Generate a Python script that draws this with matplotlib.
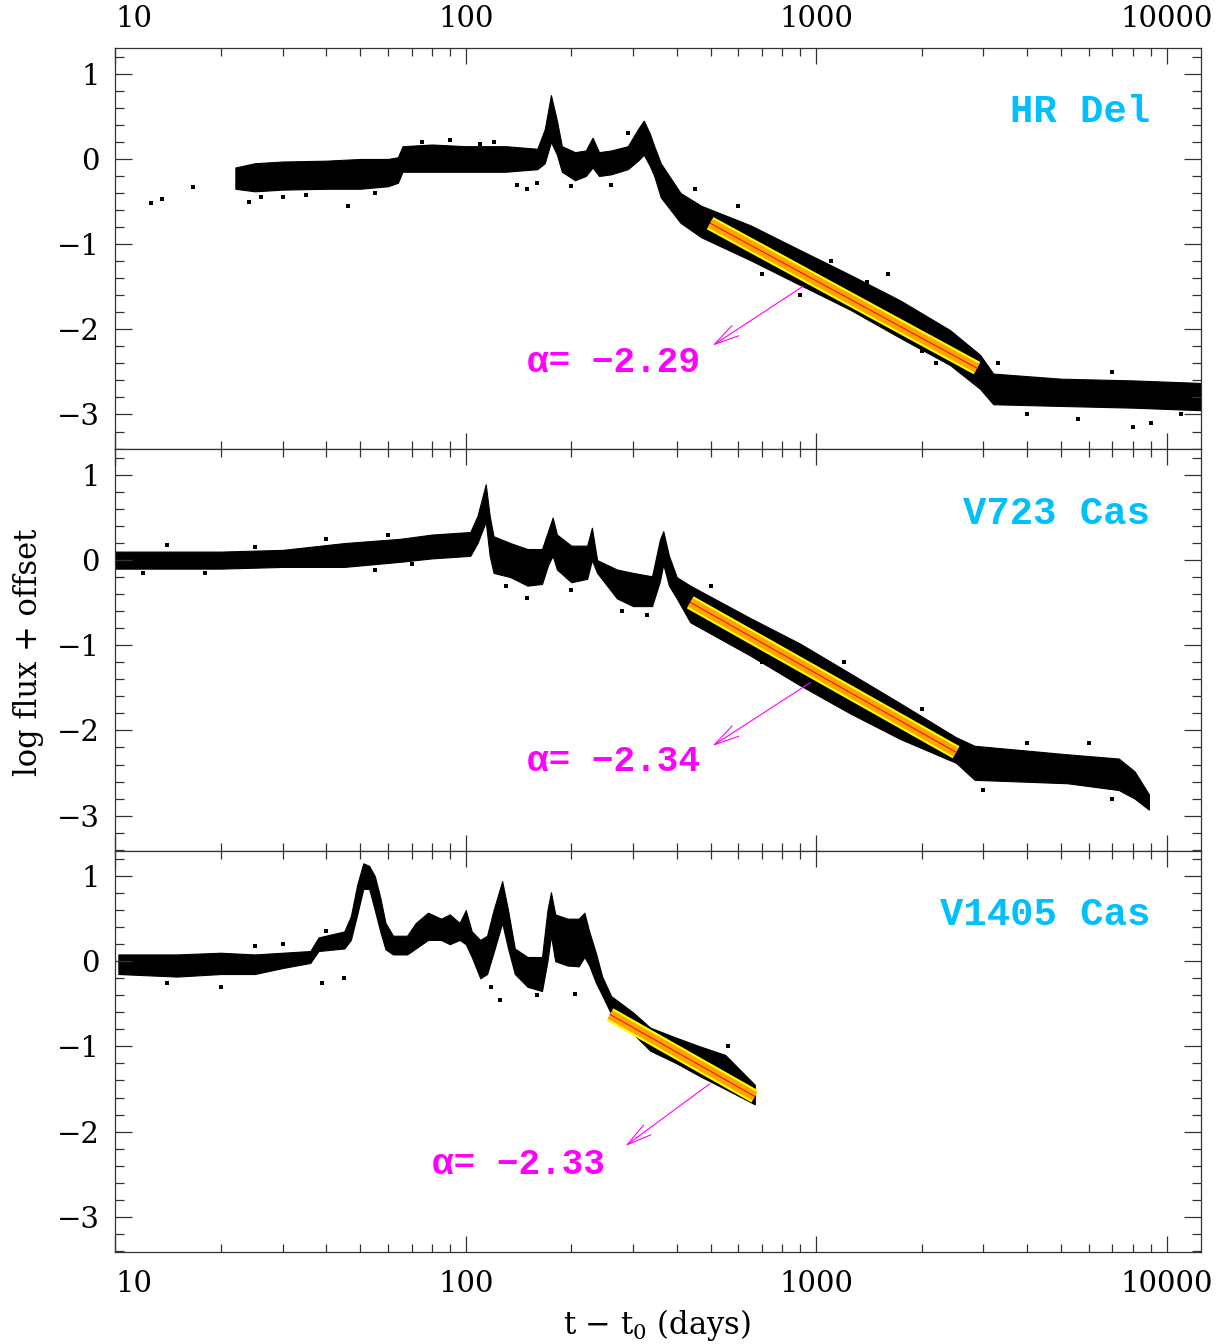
import numpy as np
import matplotlib.pyplot as plt
from matplotlib.ticker import MultipleLocator, LogLocator, NullFormatter

# ---- light curves: envelope of the dot cloud (t in days, low, high) ----
hr_t = [22, 25, 30, 40, 50, 60, 64, 66, 80, 100, 130, 160, 168, 175, 182, 188,
        205, 220, 230, 240, 260, 290, 310, 322, 335, 345, 360, 410, 470, 650,
        900, 1250, 1735, 2410, 2935, 3200, 5000, 8000, 12530]
hr_lo = [-0.35, -0.38, -0.36, -0.35, -0.35, -0.32, -0.28, -0.15, -0.15, -0.15,
         -0.15, -0.12, -0.05, 0.20, 0.05, -0.15, -0.25, -0.20, -0.10, -0.20,
         -0.18, -0.12, -0.02, 0.05, -0.08, -0.20, -0.45, -0.75, -0.92, -1.19,
         -1.48, -1.77, -2.10, -2.42, -2.70, -2.88, -2.90, -2.92, -2.95]
hr_hi = [-0.10, -0.05, -0.03, -0.02, 0.00, 0.00, 0.02, 0.15, 0.17, 0.15,
         0.15, 0.12, 0.35, 0.75, 0.45, 0.15, 0.08, 0.10, 0.25, 0.08,
         0.10, 0.15, 0.35, 0.45, 0.30, 0.15, -0.05, -0.40, -0.55, -0.78,
         -1.07, -1.36, -1.66, -2.01, -2.30, -2.52, -2.58, -2.60, -2.63]

cas723_t = [10, 20, 30, 45, 65, 80, 103, 108, 114, 117, 120, 134, 150, 165, 172,
            177, 182, 200, 222, 229, 237, 270, 300, 340, 358, 366, 380, 400,
            437, 648, 899, 1250, 1735, 2506, 2830, 5200, 7300, 8100, 8900]
cas723_lo = [-0.10, -0.10, -0.08, -0.08, -0.02, 0.02, 0.05, 0.20, 0.45, 0.05,
             -0.15, -0.20, -0.30, -0.28, -0.05, 0.05, -0.11, -0.26, -0.22, 0.00,
             -0.15, -0.45, -0.54, -0.54, -0.25, -0.05, -0.30, -0.45, -0.73,
             -1.12, -1.47, -1.80, -2.10, -2.38, -2.58, -2.62, -2.70, -2.80, -2.93]
cas723_hi = [0.10, 0.10, 0.12, 0.20, 0.25, 0.30, 0.33, 0.52, 0.89, 0.52,
             0.28, 0.20, 0.13, 0.13, 0.35, 0.50, 0.30, 0.17, 0.17, 0.38,
             0.00, -0.11, -0.15, -0.19, 0.24, 0.34, 0.05, -0.20, -0.30,
             -0.68, -0.98, -1.33, -1.68, -2.08, -2.18, -2.28, -2.33, -2.48, -2.75]

cas1405_t = [10.2, 15, 20, 25, 30, 36, 38, 45, 47, 49, 51, 53, 55, 57, 59, 62,
             68, 72, 78, 85, 90, 96, 100, 104, 110, 115, 120, 127, 132, 138,
             150, 165, 171, 175, 180, 195, 210, 218, 225, 235, 245, 260, 300,
             336, 400, 466, 550, 668]
cas1405_lo = [-0.15, -0.18, -0.15, -0.15, -0.08, -0.02, 0.12, 0.15, 0.25, 0.55,
              0.85, 0.85, 0.60, 0.35, 0.14, 0.08, 0.08, 0.15, 0.25, 0.25,
              0.20, 0.25, 0.20, 0.05, -0.20, -0.15, 0.10, 0.45, 0.15, -0.15,
              -0.30, -0.35, 0.00, 0.30, 0.00, -0.05, -0.06, 0.05, -0.05, -0.25,
              -0.40, -0.62, -0.85, -1.05, -1.20, -1.35, -1.50, -1.68]
cas1405_hi = [0.08, 0.08, 0.10, 0.08, 0.10, 0.12, 0.28, 0.35, 0.53, 0.90,
              1.15, 1.12, 1.00, 0.75, 0.45, 0.30, 0.30, 0.45, 0.57, 0.50,
              0.55, 0.45, 0.60, 0.35, 0.25, 0.30, 0.60, 0.94, 0.60, 0.15,
              0.05, 0.05, 0.60, 0.81, 0.55, 0.50, 0.50, 0.57, 0.35, 0.10,
              -0.18, -0.41, -0.60, -0.78, -0.90, -1.00, -1.10, -1.45]

# scattered outliers (t, y)
hr_dots = [(12.6, -0.52), (13.6, -0.47), (16.7, -0.33), (24, -0.50), (26, -0.45),
           (30, -0.45), (35, -0.42), (46, -0.55), (55, -0.40), (75, 0.20),
           (90, 0.22), (110, 0.18), (120, 0.20), (140, -0.30), (150, -0.35),
           (160, -0.28), (200, -0.32), (260, -0.30), (290, 0.30), (450, -0.35),
           (600, -0.55), (700, -1.35), (900, -1.60), (1100, -1.20), (1400, -1.45),
           (1600, -1.35), (2000, -2.25), (2200, -2.40), (3300, -2.40), (4000, -3.00),
           (5600, -3.05), (7000, -2.50), (8000, -3.15), (9000, -3.10), (11000, -3.00)]
cas723_dots = [(12, -0.15), (14, 0.18), (18, -0.15), (25, 0.15), (40, 0.25),
               (55, -0.12), (60, 0.30), (70, -0.05), (130, -0.30), (150, -0.45),
               (200, -0.35), (280, -0.60), (330, -0.65), (500, -0.30), (700, -1.20),
               (1200, -1.20), (1500, -1.90), (2000, -1.75), (3000, -2.70),
               (4000, -2.15), (6000, -2.15), (7000, -2.80)]
cas1405_dots = [(14, -0.25), (20, -0.30), (25, 0.18), (30, 0.20), (39, -0.25),
                (40, 0.35), (45, -0.20), (118, -0.30), (125, -0.45), (160, -0.40),
                (205, -0.38), (560, -1.00)]

# ---- power-law fits: t start, t end, y start, y end ----
fit_t = [(498, 2876), (437, 2506), (258, 668)]
fit_y = [(-0.754, -2.456), (-0.496, -2.256), (-0.625, -1.587)]
alpha_txt = ["\u03b1= \u22122.29", "\u03b1= \u22122.34", "\u03b1= \u22122.33"]
alpha_pos = [(150, -2.39), (150, -2.37), (80, -2.385)]
arrow_from = [(929, -1.48), (977, -1.42), (504, -1.42)]
arrow_to = [(498, -2.21), (498, -2.20), (281, -2.19)]
names = ["HR Del", "V723 Cas", "V1405 Cas"]

curves = [(hr_t, hr_lo, hr_hi, hr_dots),
          (cas723_t, cas723_lo, cas723_hi, cas723_dots),
          (cas1405_t, cas1405_lo, cas1405_hi, cas1405_dots)]

plt.rcParams['font.family'] = 'DejaVu Serif'
plt.rcParams['mathtext.default'] = 'regular'

fig = plt.figure(figsize=(12.22, 13.44), dpi=100)
axes = fig.subplots(3, 1, sharex=True, gridspec_kw=dict(hspace=0))
fig.subplots_adjust(left=0.0944, right=0.9828, bottom=0.0687, top=0.9641)

for i, ax in enumerate(axes):
    t, lo, hi, dots = curves[i]
    ax.fill_between(t, lo, hi, color="black", lw=0.8)
    dx, dy = zip(*dots)
    ax.scatter(dx, dy, s=6, marker="s", color="black", lw=0)

    # fit line: yellow edge, orange body, red core
    ft, fy = fit_t[i], fit_y[i]
    ax.plot(ft, fy, color="#FFFF00", lw=10, solid_capstyle="butt", zorder=3)
    ax.plot(ft, fy, color="#FFA500", lw=7, solid_capstyle="butt", zorder=4)
    ax.plot(ft, fy, color="#FF0000", lw=0.7, zorder=5)

    ax.annotate("", xy=arrow_to[i], xytext=arrow_from[i],
                arrowprops=dict(arrowstyle="->,head_length=0.9,head_width=0.22",
                                color="magenta", lw=0.8, mutation_scale=20))
    ax.text(alpha_pos[i][0], alpha_pos[i][1], alpha_txt[i], color="magenta",
            fontsize=26, family="Liberation Mono", weight="bold",
            ha="left", va="center")
    ax.text(0.953, 0.84, names[i], transform=ax.transAxes, color="#00BFFF",
            fontsize=28, family="Liberation Mono", weight="bold",
            ha="right", va="center")

    ax.set_xscale("log")
    ax.set_xlim(10, 12530)
    ax.set_ylim(-3.41, 1.30)
    ax.set_yticks([1, 0, -1, -2, -3], labels=["1", "0", "\u22121", "\u22122", "\u22123"])
    ax.yaxis.set_minor_locator(MultipleLocator(0.2))
    ax.set_xticks([10, 100, 1000, 10000], labels=["10", "100", "1000", "10000"])
    ax.xaxis.set_minor_locator(LogLocator(base=10, subs=np.arange(2, 10)))
    ax.xaxis.set_minor_formatter(NullFormatter())
    ax.tick_params(which="both", direction="in", top=True, right=True,
                   color="#333333", width=0.9, labelsize=21, pad=11)
    ax.tick_params(axis="y", which="major", length=12)
    ax.tick_params(axis="y", which="minor", length=6.5)
    ax.tick_params(axis="x", which="major", length=11.5)
    ax.tick_params(axis="x", which="minor", length=6)
    for sp in ax.spines.values():
        sp.set_color("#333333")
        sp.set_linewidth(0.9)

axes[0].tick_params(axis="x", labeltop=True, labelbottom=False, pad=11)
axes[1].tick_params(axis="x", labelbottom=False)
axes[2].tick_params(axis="x", pad=13)
for ax in (axes[0], axes[2]):
    for lab in ax.get_xticklabels():
        if lab.get_text() == "10":
            lab.set_ha("left")

fig.text(0.023, 0.515, "log flux + offset", rotation=90, ha="center",
         va="center", fontsize=22)
fig.text(0.538, 0.014, "t \u2212 t$_0$ (days)", ha="center", va="center",
         fontsize=22)

fig.savefig("out.png", dpi=100)
